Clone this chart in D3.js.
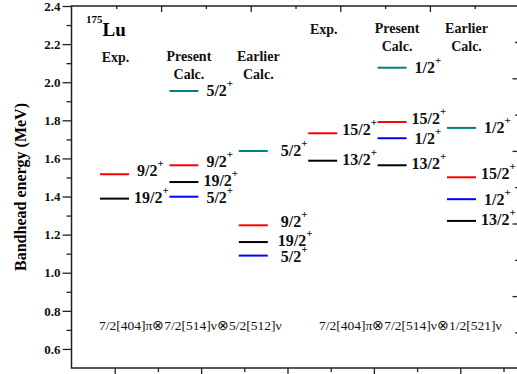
<!doctype html>
<html lang="en">
<head>
<meta charset="utf-8">
<title>175Lu bandhead energies</title>
<script src="https://cdn.jsdelivr.net/npm/d3@7"></script>
<style>
  body { margin: 0; background: #fff; }
  svg { display: block; font-family: "Liberation Serif", "Times New Roman", serif; }
  .axis line { stroke: #222; stroke-width: 1.3; }
  .axis path { display: none; }
  .axis text { font-size: 13px; font-weight: bold; fill: #111; font-family: "Liberation Serif", serif; }
  .frame { stroke: #222; stroke-width: 1.5; fill: none; }
  .lbl { font-size: 16px; font-weight: bold; fill: #111; }
  .hdr { font-size: 14px; font-weight: bold; fill: #111; text-anchor: middle; }
</style>
</head>
<body>
<svg id="chart" width="517" height="374"></svg>
<script>
// configurations, one per group of three columns
const groups = ["7/2[404]π⊗7/2[514]ν⊗5/2[512]ν", "7/2[404]π⊗7/2[514]ν⊗1/2[521]ν"];
const columns = ["Exp.", "Present|Calc.", "Earlier|Calc.", "Exp.", "Present|Calc.", "Earlier|Calc."];

// bandhead energies in MeV, one entry per column (null = no level)
const redSpin = ["9/2", "9/2", "9/2", "15/2", "15/2", "15/2"];
const redE = [1.517, 1.564, 1.249, 1.732, 1.791, 1.501];
const blackSpin = ["19/2", "19/2", "19/2", "13/2", "13/2", "13/2"];
const blackE = [1.389, 1.476, 1.161, 1.588, 1.564, 1.272];
const blueSpin = ["5/2", "5/2", "5/2", "1/2", "1/2", "1/2"];
const blueE = [null, 1.399, 1.090, null, 1.706, 1.386];
const tealSpin = ["5/2", "5/2", "5/2", "1/2", "1/2", "1/2"];
const tealE = [null, 1.954, 1.639, null, 2.076, 1.760];

const yMajor = [0.6, 0.8, 1.0, 1.2, 1.4, 1.6, 1.8, 2.0, 2.2, 2.4];
const yMinor = [0.7, 0.9, 1.1, 1.3, 1.5, 1.7, 1.9, 2.1, 2.3];

// dy: where the label baseline sits below its level line
const series = [
  { spin: tealSpin, e: tealE, color: "#008080", dy: 5 },
  { spin: redSpin, e: redE, color: "#ff0000", dy: 2 },
  { spin: blueSpin, e: blueE, color: "#0000ff", dy: 6 },
  { spin: blackSpin, e: blackE, color: "#000000", dy: 4 }
];

const svg = d3.select("#chart");
const mLeft = 71.5, mTop = 6, mBottom = 368, mRight = 517;

const y = d3.scaleLinear().domain([0.5, 2.4]).range([mBottom, mTop]);
const xCol = d3.scaleLinear().domain([0, 5]).range([100, 447]);
const lineW = 29;
const xBottom = d3.scaleLinear().domain([0, 10]).range([mLeft, 503.5]);
const xTop = d3.scaleLinear().domain([0, 10]).range([mLeft, 519.5]);
// ticks of the neighbouring panel showing at the right edge
const yNext = d3.scaleLinear().domain([-1, 8]).range([42, 368.7]);

// axes
svg.append("g").attr("class", "axis").attr("transform", `translate(${mLeft},0)`)
  .call(d3.axisLeft(y).tickValues(yMajor).tickSize(9).tickPadding(2).tickFormat(d3.format(".1f")));
svg.append("g").attr("class", "axis").attr("transform", `translate(${mLeft},0)`)
  .call(d3.axisLeft(y).tickValues(yMinor).tickSize(5).tickFormat(""));

svg.append("g").attr("class", "axis").attr("transform", `translate(0,${mBottom})`)
  .call(d3.axisBottom(xBottom).tickValues([1, 3, 5, 7, 9]).tickSize(7).tickFormat(""));
svg.append("g").attr("class", "axis").attr("transform", `translate(0,${mBottom})`)
  .call(d3.axisBottom(xBottom).tickValues([2, 4, 6, 8, 10]).tickSize(4).tickFormat(""));

svg.append("g").attr("class", "axis").attr("transform", `translate(0,${mTop})`)
  .call(d3.axisBottom(xTop).tickValues([2, 4, 6, 8]).tickSize(6).tickFormat(""));
svg.append("g").attr("class", "axis").attr("transform", `translate(0,${mTop})`)
  .call(d3.axisBottom(xTop).tickValues([1, 3, 5, 7, 9]).tickSize(3).tickFormat(""));

svg.append("g").attr("class", "axis").attr("transform", `translate(${mRight},0)`)
  .call(d3.axisLeft(yNext).tickValues([0, 2, 4, 6]).tickSize(4.5).tickFormat(""));
svg.append("g").attr("class", "axis").attr("transform", `translate(${mRight},0)`)
  .call(d3.axisLeft(yNext).tickValues([-1, 1, 3, 5, 7]).tickSize(2).tickFormat(""));

svg.append("path").attr("class", "frame")
  .attr("d", `M${mRight},${mTop}H${mLeft}V${mBottom}H${mRight}`);

// axis title
svg.append("text")
  .attr("transform", "rotate(-90)")
  .attr("x", -187).attr("y", 26)
  .attr("text-anchor", "middle")
  .style("font-size", "16px").style("font-weight", "bold")
  .text("Bandhead energy (MeV)");

// nucleus
const nuc = svg.append("text").attr("x", 86).attr("y", 36).style("font-weight", "bold");
nuc.append("tspan").attr("dy", -13).style("font-size", "11px").text("175");
nuc.append("tspan").attr("dy", 13).style("font-size", "19px").text("Lu");

// column headers
columns.forEach((c, i) => {
  const parts = c.split("|");
  const g = i < 3 ? 0 : 1;
  const y0 = g === 0 ? 61 : 33;
  const cx = xCol(i) + lineW / 2 + (parts.length > 1 ? 5 : 1);
  parts.forEach((p, k) => {
    svg.append("text").attr("class", "hdr")
      .attr("x", cx).attr("y", y0 + k * 18 + (parts.length > 1 ? 0 : 1))
      .text(p);
  });
});

// levels
series.forEach(s => {
  s.e.forEach((e, i) => {
    if (e == null) return;
    svg.append("line")
      .attr("x1", xCol(i)).attr("x2", xCol(i) + lineW)
      .attr("y1", y(e)).attr("y2", y(e))
      .attr("stroke", s.color).attr("stroke-width", 2);
    const gap = (s.spin[i].length === 3 ? 8 : 5) + (i === 2 ? 5 : 0);
    const t = svg.append("text").attr("class", "lbl")
      .attr("x", xCol(i) + lineW + gap)
      .attr("y", y(e) + s.dy);
    t.append("tspan").text(s.spin[i]);
    t.append("tspan").attr("dy", -9).style("font-size", "11px").text("+");
  });
});

// configuration labels
[99, 319].forEach((x, g) => {
  svg.append("text").attr("x", x).attr("y", 330)
    .style("font-size", "13.5px").attr("fill", "#111")
    .text(groups[g]);
});
</script>
</body>
</html>
